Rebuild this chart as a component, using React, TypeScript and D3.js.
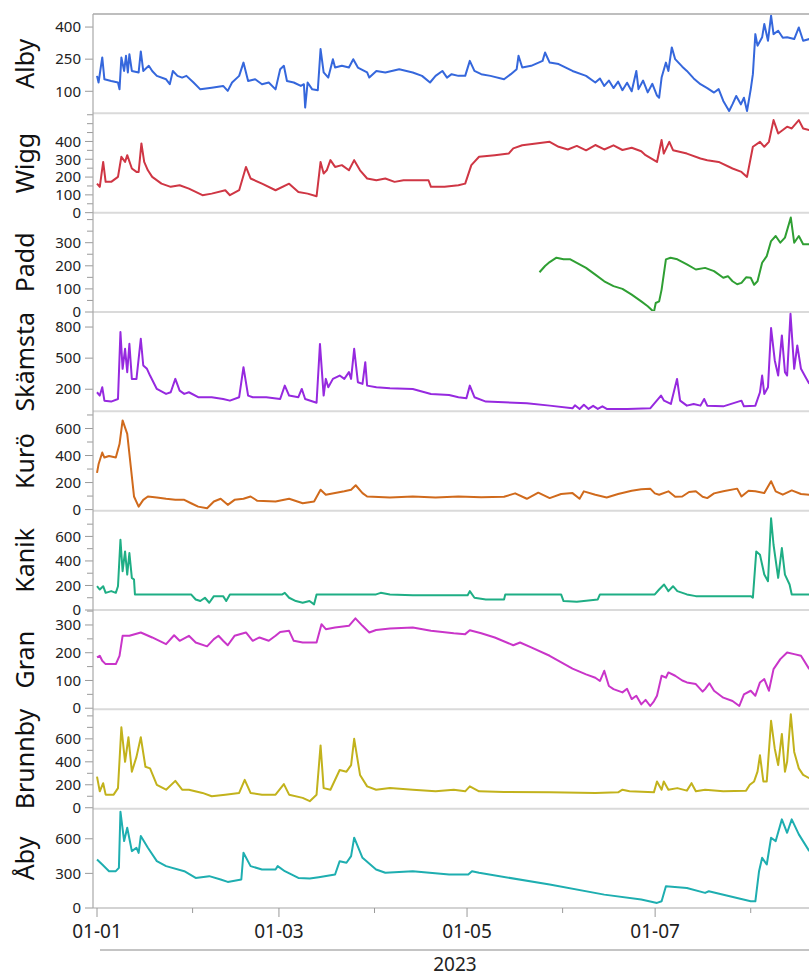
import React from "react";
import * as d3 from "d3";

type Pt = [number, number]; // [days since 2023-01-01, value]

const albyData: Pt[] = [[0,172],[0.5,141],[1.7,258],[2.4,156],[4.6,148],[6.8,141],[7.3,109],[7.9,258],[8.8,195],[9.4,266],[10,188],[10.5,273],[11.3,195],[13.5,188],[14.2,286],[15,195],[16.8,219],[17.9,195],[19.4,172],[22.4,156],[23.6,133],[24.6,195],[26.1,172],[27.6,164],[29,172],[31.3,141],[33.5,109],[37.2,117],[40.9,125],[42.4,102],[43.8,141],[46.1,172],[47.5,234],[49,148],[51.3,156],[53.5,133],[55.7,141],[57.9,109],[59.4,203],[60.6,219],[61.6,148],[63.8,141],[66.1,125],[67.1,133],[67.5,24],[68.3,141],[69.8,109],[71.6,105],[72.5,297],[73.5,188],[75,164],[76.5,250],[77.2,211],[79.4,219],[81.7,211],[83.1,250],[84.6,211],[87.6,188],[88.3,164],[90.6,195],[93.5,188],[98,203],[102.4,188],[105.4,172],[108,141],[109.8,172],[112,195],[113.5,164],[115,180],[117.2,172],[119.4,172],[120.9,242],[122.4,195],[124.6,180],[127.6,172],[132,156],[134.2,180],[136.1,203],[136.7,266],[137.9,211],[140.8,219],[144.5,242],[145.3,281],[146.8,234],[149.7,227],[154.2,195],[158.6,172],[161.6,141],[163.1,160],[164.5,125],[166,150],[167.5,115],[169,145],[170.4,105],[171.9,140],[173.4,100],[174.9,195],[175.6,110],[177.1,150],[178.6,95],[180.1,135],[181.6,80],[182.3,70],[183.1,164],[184.5,234],[185.3,195],[186.4,305],[187.5,250],[189.8,215],[191.3,195],[193.5,160],[195.7,133],[197.9,115],[200.1,94],[201.6,110],[203.1,55],[205,8],[206.1,40],[207.3,78],[208.8,39],[209.8,70],[210.8,8],[212,109],[212.7,180],[213.5,367],[214.2,313],[215.7,352],[216.4,414],[217.6,336],[218.6,453],[219.4,367],[220.9,383],[222.4,350],[223.8,352],[226.1,344],[227.6,398],[229,336],[231,344]];

const wiggData: Pt[] = [[0,163],[0.9,145],[2,285],[2.8,173],[4.6,173],[6.8,201],[7.9,314],[9.1,285],[9.8,323],[11.3,248],[12.8,229],[13.5,229],[14.4,389],[15.3,285],[16.5,238],[17.9,201],[20.9,163],[23.9,145],[26.8,154],[29.8,135],[34.2,98],[37.2,107],[41.6,126],[43.1,98],[46.1,126],[48.3,257],[49.8,192],[53.5,163],[57.9,126],[62.3,163],[65.3,116],[68.3,107],[71.2,92],[72.5,285],[73.5,220],[74.5,238],[75.7,295],[77.2,257],[79.4,267],[81.7,238],[83.4,295],[85.3,238],[87.6,192],[90.6,182],[93.5,192],[96.5,173],[99.4,182],[107.5,182],[108.3,145],[112.7,145],[117.2,154],[119.4,163],[121.4,267],[123.9,314],[129,323],[133.5,332],[135,361],[137.9,379],[142.4,389],[146.8,398],[149.7,370],[152.7,355],[155.6,375],[158.6,350],[161.6,380],[164.5,355],[167.5,378],[170.4,352],[173.4,365],[176.5,345],[177.9,323],[181.6,285],[183.1,408],[183.8,332],[185.6,398],[186.8,351],[191.3,332],[195.7,304],[197.9,295],[201.6,285],[206.1,248],[209,229],[210.8,201],[212.7,370],[215,398],[216.4,370],[217.9,398],[219.4,520],[220.9,445],[222.4,464],[223.8,483],[225.3,473],[227.6,520],[229,473],[231,464]];

const paddData: Pt[] = [[143.5,172],[145.3,199],[146.8,216],[149,235],[151.3,228],[153.5,228],[155.6,213],[158.6,191],[161.6,162],[164.5,133],[167.5,112],[170.4,100],[173.4,75],[176.5,46],[178.6,25],[180.6,0],[181.2,39],[182.3,46],[183.1,97],[184.5,228],[186,235],[188.2,228],[191.3,206],[194.2,184],[197.2,191],[200.1,177],[203.1,148],[204.6,155],[206.1,133],[207.6,120],[209,126],[210.5,150],[212,148],[213.1,118],[214.2,133],[215.7,213],[217.2,242],[218.6,307],[220.1,329],[221.6,300],[223.1,322],[225,409],[226.1,300],[227.6,329],[229,293],[231,293]];

const skamstaData: Pt[] = [[0,171],[0.9,139],[1.7,219],[2.4,90],[4.6,81],[6.8,106],[7.6,752],[8.3,397],[9.1,590],[9.8,365],[10.5,639],[11.3,300],[12.8,300],[14.2,687],[15,429],[16.2,397],[17.2,332],[19.4,203],[22.4,155],[23.9,171],[25.4,300],[26.8,187],[28.3,155],[29.8,171],[32.8,123],[37.2,123],[40.9,106],[43.1,90],[46.1,123],[47.5,413],[49,139],[50.5,123],[54.9,123],[59.4,106],[60.9,235],[62.3,139],[65.3,123],[66.4,203],[67.5,106],[71.2,70],[72.3,637],[73.5,139],[74.2,300],[75,219],[76.5,300],[78.7,332],[80.2,300],[81.7,365],[82.4,300],[83.4,590],[84.6,268],[86.1,252],[87,461],[87.6,235],[90.6,219],[95,210],[102.4,203],[108.3,155],[114.2,145],[117.2,123],[119.8,113],[120.9,235],[122.4,123],[126.1,81],[132,74],[139.4,65],[146.8,42],[154.2,16],[155,45],[156.5,10],[157.9,50],[159.4,10],[160.9,40],[162.4,10],[163.9,35],[165.3,10],[172,10],[179.4,16],[182.9,139],[183.9,90],[186.1,58],[188.1,299],[189.1,90],[191.3,42],[193.5,58],[195.7,42],[196.9,106],[197.9,42],[203.1,35],[209,90],[209.8,35],[213.5,42],[215,171],[215.7,332],[216.4,155],[217.6,219],[218.6,790],[219.8,478],[220.9,332],[222.1,719],[223.1,365],[223.8,332],[224.9,928],[226.1,397],[227.1,623],[228.3,397],[229.8,316],[231,252]];

const kuroData: Pt[] = [[0,272],[0.5,335],[1.7,422],[2.4,385],[3.9,397],[6.1,385],[7.3,485],[8.3,660],[9.8,560],[12,97],[13.5,22],[15,72],[16.5,97],[19.4,90],[22.4,80],[25.4,72],[28.3,72],[30.5,47],[32.8,22],[35.7,10],[37.9,60],[40.1,80],[42.4,35],[44.6,72],[47.5,80],[49.8,97],[52,65],[57.9,60],[62.3,80],[66.7,47],[70.4,60],[72.5,147],[74.2,110],[77.2,122],[80.2,135],[82.4,147],[83.9,180],[86.1,122],[87.6,97],[95,90],[102.4,97],[109.8,90],[117.2,97],[124.6,92],[132,95],[135.6,120],[139.4,80],[143.1,125],[146.8,85],[150.5,115],[154.2,122],[156.5,80],[157.9,135],[161.6,110],[165.3,90],[169,115],[173.4,140],[176.5,150],[179.4,155],[180.9,120],[182.3,110],[185.3,135],[187.5,95],[189.8,97],[192,130],[194.2,135],[196.4,95],[197.9,85],[200.1,120],[203.1,135],[207.6,155],[209,97],[211.3,140],[213.5,135],[216.4,122],[218.6,210],[220.1,135],[222.4,110],[225.3,142],[228.3,115],[231,110]];

const kanikData: Pt[] = [[0,194],[0.9,167],[2,194],[2.8,140],[4.6,154],[6.1,140],[6.8,194],[7.6,572],[8.3,316],[9.1,478],[9.8,289],[10.5,464],[11.3,262],[12,248],[12.3,127],[30.5,127],[32,86],[33.5,73],[35,100],[36.4,59],[37.9,113],[40.9,113],[41.9,73],[43.1,127],[60.1,127],[60.9,140],[62.3,100],[64.5,73],[66.7,59],[68.9,73],[70.4,46],[71.2,127],[90.5,127],[92,140],[95,127],[102.4,121],[120.2,121],[120.9,154],[122.4,100],[126.1,86],[132,86],[132.4,127],[150.5,127],[151.3,73],[155.6,67],[162.4,86],[163.1,127],[180.9,127],[182.3,167],[183.9,208],[185.3,154],[186.8,194],[188.2,154],[191.3,127],[194.2,113],[212,113],[212.7,100],[213.8,478],[215,451],[216.4,289],[217.6,235],[218.6,748],[219.4,532],[220.9,262],[222.1,505],[223.1,289],[224.6,208],[225.3,127],[231,127]];

const granData: Pt[] = [[0,183],[0.9,189],[1.7,171],[2.8,159],[6.1,159],[7.3,189],[8.3,261],[10.5,261],[14.2,273],[17.9,255],[22.4,231],[25,263],[26.8,243],[29.8,261],[32,237],[35.7,223],[37.9,249],[39.4,261],[40.9,243],[42.4,227],[44.6,261],[48.3,273],[50.5,243],[52.7,255],[55.7,243],[57.9,261],[59.4,275],[62.3,279],[63.8,243],[66.7,237],[71.2,237],[72.8,303],[74.2,285],[77.2,291],[81.7,297],[83.8,324],[86.1,297],[88.3,273],[90.5,282],[95,287],[102.4,291],[108.3,279],[115.7,270],[119.4,267],[120.9,281],[124.6,270],[129,255],[135,227],[137.2,237],[140.8,219],[146.8,189],[154.2,143],[158.6,122],[161.6,110],[163.1,98],[164.5,135],[166,80],[167.5,69],[170.4,57],[171.9,70],[173.4,33],[174.9,45],[176.5,14],[177.9,30],[179.4,8],[180.6,25],[181.6,45],[183.1,117],[184.5,110],[185.3,129],[187.5,117],[189.8,100],[191.3,93],[194.2,87],[196.4,60],[197.2,69],[198.6,90],[200.1,63],[203.1,38],[206.1,26],[208.3,8],[209.8,50],[212,63],[213.5,45],[215,93],[216.4,105],[217.9,63],[219.4,141],[221.6,177],[223.8,201],[226.1,195],[228.3,189],[231,141]];

const brunnbyData: Pt[] = [[0,271],[0.9,143],[2,214],[2.8,114],[5.4,114],[6.8,171],[7.9,700],[9.1,400],[10.2,614],[11.3,314],[12.8,443],[14.2,614],[15.7,357],[17.2,343],[19.4,200],[22.4,157],[25.4,234],[27.6,157],[29.8,157],[34.2,129],[37.2,100],[41.6,114],[46.1,129],[47.9,243],[49.8,129],[53.5,114],[57.9,114],[60.6,206],[62.3,114],[66.7,86],[69,57],[71.2,114],[72.5,543],[73.5,171],[75.7,157],[78.7,329],[80.9,314],[82.4,371],[83.4,600],[85.3,286],[87.6,186],[90.5,157],[95,171],[102.4,157],[109.8,143],[115.7,157],[119.4,143],[120.9,186],[123.9,143],[132,137],[146.8,134],[161.6,129],[169,134],[170.4,157],[172.7,143],[180.6,134],[181.6,229],[183.1,157],[183.8,229],[185.3,157],[188.2,171],[191.3,149],[192.8,214],[194.2,143],[197.2,157],[203.1,143],[210.5,149],[211.7,200],[213.1,229],[214.2,314],[215,457],[216.1,229],[217.2,229],[218.6,757],[219.8,514],[220.9,371],[222.1,643],[223.1,314],[223.8,400],[225,814],[226.1,486],[227.6,343],[229,286],[231,257]];

const abyData: Pt[] = [[0,420],[1.7,377],[3.9,319],[6.1,319],[7.1,348],[7.6,835],[8.8,580],[9.8,696],[11.3,493],[12.8,522],[13.5,478],[14.2,624],[16.5,522],[19.4,406],[22.4,363],[28.3,319],[32,261],[36.4,276],[40.1,247],[42.4,226],[46.8,247],[47.5,479],[49.8,363],[53.5,334],[57.9,334],[58.6,363],[60.9,319],[65.3,261],[69,255],[71.9,267],[77.2,290],[78.7,406],[80.9,392],[82.4,450],[83.4,609],[86.1,435],[90.5,334],[93.5,305],[102.4,319],[114.2,290],[120.4,290],[121.6,319],[123.9,305],[146.8,203],[164.5,116],[176.5,73],[181.6,44],[183.1,58],[184.5,189],[191.3,174],[197.2,131],[198.4,145],[212,58],[213.5,58],[214.7,319],[215.7,435],[217.2,377],[218.6,609],[220.1,580],[222.1,768],[223.8,652],[225.3,768],[227.6,638],[231,493]];

const seriesNames = ["Alby", "Wigg", "Padd", "Skämsta", "Kurö", "Kanik", "Gran", "Brunnby", "Åby"];
const seriesColors = ["#3567dc", "#cf3644", "#2f9f33", "#9629df", "#d06a1c", "#1fae85", "#c935c9", "#c2b21c", "#1eaeb0"];
const seriesData = [albyData, wiggData, paddData, skamstaData, kuroData, kanikData, granData, brunnbyData, abyData];
const yDomains: [number, number][] = [[-3, 461], [0, 558], [0, 430], [-13, 945], [-8, 727], [0, 810], [-4, 354], [-8, 857], [0, 861]];
const yMajorTicks: number[][] = [[100, 250, 400], [0, 100, 200, 300, 400], [0, 100, 200, 300], [200, 500, 800], [0, 200, 400, 600], [0, 200, 400, 600], [0, 100, 200, 300], [0, 200, 400, 600], [0, 300, 600]];
const yMinorTicks: number[][] = [[], [50, 150, 250, 350, 450, 500, 550], [50, 150, 250, 350, 400], [], [100, 300, 500, 700], [100, 300, 500, 700], [50, 150, 250, 350], [100, 300, 500, 700, 800], []];
const yearLabel = "2023";

const W = 809;
const H = 976;
const LEFT = 93;
const TOP = 14;
const BOTTOM = 908;
const FONT = "'Noto Sans', 'Open Sans', sans-serif";

const t0 = Date.UTC(2023, 0, 1);
const DAY = 86400000;
const toDate = (d: number) => new Date(t0 + d * DAY);

export default function App() {
  const n = seriesNames.length;
  const ph = (BOTTOM - TOP) / n;
  const x = d3.scaleUtc().domain([toDate(-1.3), toDate(230.9)]).range([LEFT, W]);
  const months = d3.utcMonth.range(new Date(Date.UTC(2023, 0, 1)), new Date(Date.UTC(2023, 8, 1)));
  const fmt = d3.utcFormat("%d-%m");

  return (
    <svg width={W} height={H} style={{ position: "absolute", left: 0, top: 0, background: "#fff" }} fontFamily={FONT}>
      <rect x={0} y={0} width={W} height={H} fill="#fff" />
      {seriesNames.map((name, i) => {
        const top = TOP + i * ph;
        const bot = top + ph;
        const y = d3.scaleLinear().domain(yDomains[i]).range([bot, top]);
        const line = d3
          .line<Pt>()
          .x((d) => x(toDate(d[0])))
          .y((d) => y(d[1]));
        return (
          <g key={name}>
            <defs>
              <clipPath id={`clip${i}`}>
                <rect x={LEFT} y={top} width={W - LEFT} height={ph} />
              </clipPath>
            </defs>
            {i > 0 && <line x1={LEFT} x2={W} y1={top} y2={top} stroke="#dadada" strokeWidth={2} />}
            <path d={line(seriesData[i]) || ""} fill="none" stroke={seriesColors[i]} strokeWidth={2} strokeLinejoin="round" clipPath={`url(#clip${i})`} />
            {yMinorTicks[i].map((v) => (
              <line key={"m" + v} x1={LEFT - 6} x2={LEFT} y1={y(v)} y2={y(v)} stroke="#9a9a9a" strokeWidth={1} />
            ))}
            {yMajorTicks[i].map((v) => (
              <g key={"M" + v}>
                <line x1={LEFT - 8} x2={LEFT} y1={y(v)} y2={y(v)} stroke="#9a9a9a" strokeWidth={1} />
                <text x={81} y={y(v)} dy="0.35em" textAnchor="end" fontSize={15} fill="#222">
                  {v}
                </text>
              </g>
            ))}
            <text
              transform={`translate(25,${(top + bot) / 2}) rotate(-90)`}
              textAnchor="middle"
              dy="0.35em"
              fontSize={25}
              fill="#111"
            >
              {name}
            </text>
          </g>
        );
      })}
      <line x1={LEFT} x2={W} y1={TOP} y2={TOP} stroke="#a8a8a8" strokeWidth={1.5} />
      <line x1={LEFT} x2={LEFT} y1={TOP} y2={BOTTOM} stroke="#a8a8a8" strokeWidth={1.2} />
      <line x1={LEFT} x2={W} y1={BOTTOM} y2={BOTTOM} stroke="#a8a8a8" strokeWidth={1.2} />
      {months.map((m) => {
        const major = m.getUTCMonth() % 2 === 0;
        const xx = x(m);
        return (
          <g key={m.toISOString()}>
            <line x1={xx} x2={xx} y1={BOTTOM} y2={BOTTOM + (major ? 9 : 5)} stroke="#9a9a9a" strokeWidth={1} />
            {major && (
              <text x={xx} y={938} textAnchor="middle" fontSize={19} fill="#222">
                {fmt(m)}
              </text>
            )}
          </g>
        );
      })}
      <line x1={100} x2={W} y1={950} y2={950} stroke="#8a8a8a" strokeWidth={1.2} />
      <text x={455} y={971} textAnchor="middle" fontSize={19} fill="#222">
        {yearLabel}
      </text>
    </svg>
  );
}
